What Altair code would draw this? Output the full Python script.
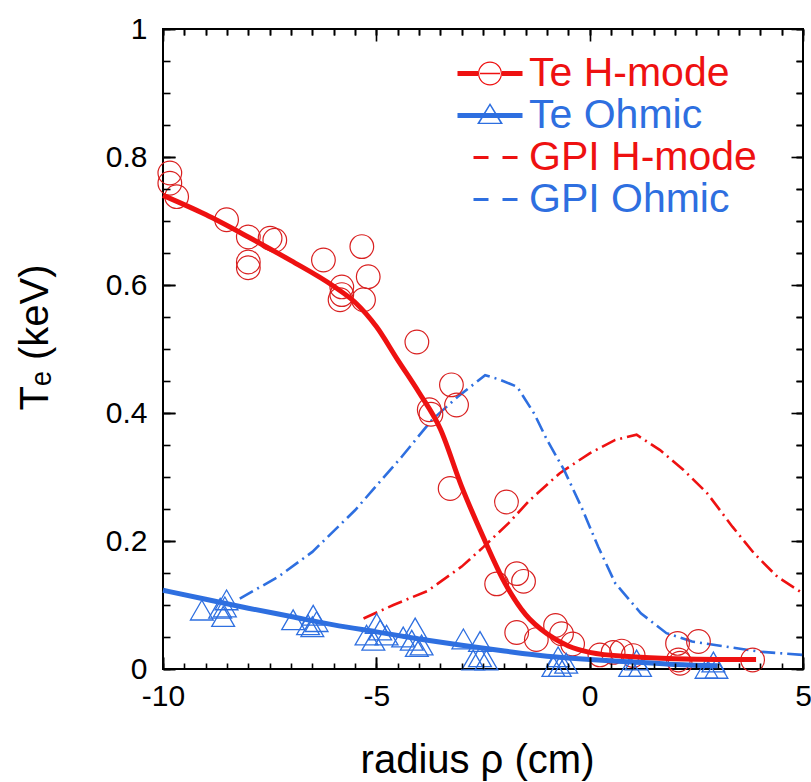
import altair as alt
import pandas as pd

RED = "#ee1111"
BLUE = "#2e6fe0"
FONT = "Liberation Sans"

series_names = ["Te H-mode", "Te Ohmic", "GPI H-mode", "GPI Ohmic"]
series_colors = [RED, BLUE, RED, BLUE]

# Te H-mode measurements (open circles)
hmode_x = [-9.84, -9.84, -9.68, -8.51, -8.0, -8.0, -8.0, -7.49, -7.38, -6.24,
           -5.34, -5.19, -5.30, -5.81, -5.85, -5.81, -4.05, -3.24, -3.12, -3.76,
           -3.72, -3.27, -1.95, -1.71, -1.55, -2.18, -1.71, -1.25, -0.80, -0.66,
           -0.40, 0.24, 0.55, 0.75, 1.02, 2.06, 2.55, 2.08, 2.12, 3.82]
hmode_y = [0.775, 0.759, 0.738, 0.702, 0.675, 0.636, 0.627, 0.673, 0.670, 0.639,
           0.660, 0.613, 0.577, 0.597, 0.577, 0.585, 0.511, 0.444, 0.4125, 0.405,
           0.398, 0.282, 0.261, 0.149, 0.137, 0.133, 0.057, 0.046, 0.068, 0.055,
           0.039, 0.022, 0.026, 0.028, 0.021, 0.040, 0.043, 0.014, 0.009, 0.014]

# Te Ohmic measurements (open triangles)
ohmic_x = [-9.09, -8.66, -8.59, -8.55, -8.51, -6.95, -6.60, -6.48, -6.40, -6.50,
           -5.23, -5.07, -4.99, -4.91, -4.76, -4.37, -4.17, -4.09, -3.94, -4.05,
           -2.96, -2.57, -2.57, -2.73, -2.42, -0.85, -0.74, -0.70, -0.55,
           0.95, 1.10, 1.18, 2.74, 2.90, 2.97]
ohmic_y = [0.092, 0.095, 0.082, 0.097, 0.108, 0.077, 0.069, 0.084, 0.074, 0.066,
           0.053, 0.045, 0.071, 0.061, 0.053, 0.050, 0.045, 0.064, 0.0375, 0.035,
           0.047, 0.043, 0.019, 0.014, 0.014, 0.004, 0.019, 0.004, 0.009,
           0.004, 0.014, 0.004, 0.001, 0.011, 0.001]

# Fitted profiles (thick solid lines)
hfit_x = [-10, -9, -8, -7, -6, -5.5, -5, -4.5, -4, -3.5, -3, -2.5, -2, -1.5, -1,
          -0.5, 0, 1, 2, 3, 3.9]
hfit_y = [0.740, 0.710, 0.675, 0.638, 0.598, 0.573, 0.535, 0.483, 0.432, 0.375,
          0.285, 0.207, 0.136, 0.085, 0.055, 0.036, 0.026, 0.019, 0.016, 0.015, 0.015]
ofit_x = [-10, -9, -8, -7, -6, -5, -4, -3, -2, -1, 0, 1, 2, 3]
ofit_y = [0.123, 0.109, 0.095, 0.082, 0.069, 0.058, 0.047, 0.037, 0.028, 0.020,
          0.015, 0.011, 0.007, 0.005]

# GPI profiles (dashed)
gpih_x = [-5.3, -4.6, -3.8, -3.0, -2.5, -1.9, -1.4, -0.7, 0.0, 0.6, 1.1, 1.65,
          2.2, 2.75, 3.35, 3.85, 4.4, 5.0]
gpih_y = [0.079, 0.100, 0.122, 0.160, 0.190, 0.228, 0.264, 0.306, 0.337, 0.358,
          0.366, 0.342, 0.311, 0.275, 0.222, 0.181, 0.144, 0.118]
gpio_x = [-8.2, -7.3, -6.5, -5.5, -4.4, -3.7, -3.1, -2.45, -2.1, -1.7, -1.3, -1.0,
          -0.6, -0.2, 0.2, 0.6, 1.2, 1.8, 2.4, 3.2, 4.0, 5.0]
gpio_y = [0.110, 0.144, 0.183, 0.248, 0.332, 0.389, 0.425, 0.459, 0.452, 0.441,
          0.399, 0.358, 0.311, 0.254, 0.191, 0.134, 0.087, 0.056, 0.043, 0.035,
          0.027, 0.022]

x_major = [-10, -5, 0, 5]
x_minor = [-10, -9.5, -9, -8.5, -8, -7.5, -7, -6.5, -6, -5.5, -5, -4.5, -4, -3.5,
           -3, -2.5, -2, -1.5, -1, -0.5, 0, 0.5, 1, 1.5, 2, 2.5, 3, 3.5, 4, 4.5, 5]
y_major = [0, 0.2, 0.4, 0.6, 0.8, 1]
y_minor = [0, 0.05, 0.1, 0.15, 0.2, 0.25, 0.3, 0.35, 0.4, 0.45, 0.5, 0.55, 0.6,
           0.65, 0.7, 0.75, 0.8, 0.85, 0.9, 0.95, 1]

# legend glyphs (custom symbol paths, units of 10 px)
legend_paths = {
    "Te H-mode": ("M-5.1,-0.25H-3.05V0.25H-5.1Z"
                  "M-0.65,-0.25H1.4V0.25H-0.65Z"
                  "M-0.65,0A1.2,1.2 0 1,0 -3.05,0A1.2,1.2 0 1,0 -0.65,0Z"
                  "M-0.77,0A1.08,1.08 0 1,1 -2.93,0A1.08,1.08 0 1,1 -0.77,0Z"
                  "M-2.85,-0.07H-0.85V0.07H-2.85Z"),
    "Te Ohmic": ("M-5.1,-0.25H1.4V0.25H-5.1Z"
                 "M-1.85,-1.25L-0.55,0.85L-3.15,0.85Z"
                 "M-1.85,-0.97L-2.87,0.72L-0.83,0.72Z"),
    "GPI H-mode": "M-3.5,-0.15H-2.0V0.15H-3.5ZM-0.6,-0.15H0.9V0.15H-0.6Z",
    "GPI Ohmic": "M-3.5,-0.15H-2.0V0.15H-3.5ZM-0.6,-0.15H0.9V0.15H-0.6Z",
}
shape_expr = ("datum.value === 'Te H-mode' ? '" + legend_paths["Te H-mode"] + "' : "
              "datum.value === 'Te Ohmic' ? '" + legend_paths["Te Ohmic"] + "' : '"
              + legend_paths["GPI H-mode"] + "'")

circles_df = pd.DataFrame({"x": hmode_x, "y": hmode_y})
tri_df = pd.DataFrame({"x": ohmic_x, "y": ohmic_y})
hfit_df = pd.DataFrame({"x": hfit_x, "y": hfit_y, "series": "Te H-mode"})
ofit_df = pd.DataFrame({"x": ofit_x, "y": ofit_y, "series": "Te Ohmic"})
fit_df = pd.concat([hfit_df, ofit_df])
gpih_df = pd.DataFrame({"x": gpih_x, "y": gpih_y})
gpio_df = pd.DataFrame({"x": gpio_x, "y": gpio_y})

xs = alt.Scale(domain=[-10, 5], nice=False, zero=False)
ys = alt.Scale(domain=[0, 1], nice=False, zero=False)
cs = alt.Scale(domain=series_names, range=series_colors)


def tick_axis(orient, values, size):
    # inward-pointing ticks: axis moved inside by its own tick length
    return alt.Axis(orient=orient, values=values, ticks=True, tickSize=size,
                    tickWidth=1.6, tickColor="black", labels=False, domain=False,
                    grid=False, title=None, offset=-size, zindex=1)


x_main = alt.Axis(orient="bottom", values=x_major, labelExpr="'' + datum.value",
                  ticks=False, tickSize=0, domain=False, grid=False,
                  labelFont=FONT, labelFontSize=30, labelColor="black",
                  labelPadding=12, labelFlush=False, labelOverlap=False,
                  title="radius ρ (cm)", titleFont=FONT, titleFontSize=40,
                  titleFontWeight="normal", titleColor="black",
                  titleX=314, titleY=103, titleBaseline="alphabetic",
                  titleAlign="center")
y_main = alt.Axis(orient="left", values=y_major, labelExpr="'' + datum.value",
                  ticks=False, tickSize=0, domain=False, grid=False,
                  labelFont=FONT, labelFontSize=30, labelColor="black",
                  labelPadding=16, labelFlush=False, labelOverlap=False,
                  title="Tₑ (keV)", titleFont=FONT, titleFontSize=40,
                  titleFontWeight="normal", titleColor="black",
                  titleX=-116, titleY=308, titleAngle=270,
                  titleBaseline="alphabetic", titleAlign="center")

legend = alt.Legend(
    orient="none", legendX=325, legendY=24, title=None,
    labelFont=FONT, labelFontSize=41, labelLimit=500, symbolSize=400,
    labelOffset=0, rowPadding=0, padding=0, symbolOpacity=1,
    symbolStrokeWidth=0,
    symbolType={"expr": shape_expr},
    labelColor={"expr": "scale('color', datum.value)"},
)
# invisible filled layer that carries the legend
legend_host = alt.Chart(fit_df).mark_point(filled=True, opacity=0, size=10).encode(
    x=alt.X("x:Q", scale=xs, axis=tick_axis("bottom", x_major, 12)),
    y=alt.Y("y:Q", scale=ys, axis=tick_axis("left", y_major, 12)),
    color=alt.Color("series:N", scale=cs, sort=series_names, legend=legend),
)

gpi_h = alt.Chart(gpih_df).mark_line(strokeWidth=2.6, strokeDash=[15, 5, 2, 5],
                                      color=RED).encode(
    x=alt.X("x:Q", scale=xs, axis=x_main),
    y=alt.Y("y:Q", scale=ys, axis=y_main),
)
gpi_o = alt.Chart(gpio_df).mark_line(strokeWidth=2.6, strokeDash=[15, 5, 2, 5],
                                      color=BLUE).encode(
    x=alt.X("x:Q", scale=xs, axis=tick_axis("bottom", x_major, 12)),
    y=alt.Y("y:Q", scale=ys, axis=tick_axis("left", y_major, 12)),
)
circles = alt.Chart(circles_df).mark_point(shape="circle", filled=False, size=560,
                                           strokeWidth=1.2, color="#d92020",
                                           opacity=1).encode(
    x=alt.X("x:Q", scale=xs, axis=tick_axis("bottom", x_minor, 6)),
    y=alt.Y("y:Q", scale=ys, axis=tick_axis("left", y_minor, 7)),
)
triangles = alt.Chart(tri_df).mark_point(shape="triangle-up", filled=False,
                                         size=520, strokeWidth=1.3, color=BLUE,
                                         opacity=1).encode(
    x=alt.X("x:Q", scale=xs, axis=tick_axis("top", x_major, 12)),
    y=alt.Y("y:Q", scale=ys, axis=tick_axis("right", y_major, 12)),
)
fit_h = alt.Chart(hfit_df).mark_line(strokeWidth=5, interpolate="monotone",
                                     color=RED).encode(
    x=alt.X("x:Q", scale=xs, axis=tick_axis("top", x_minor, 6)),
    y=alt.Y("y:Q", scale=ys, axis=tick_axis("right", y_minor, 7)),
)
fit_o = alt.Chart(ofit_df).mark_line(strokeWidth=5, interpolate="monotone",
                                     color=BLUE).encode(
    x=alt.X("x:Q", scale=xs, axis=tick_axis("top", x_minor, 6)),
    y=alt.Y("y:Q", scale=ys, axis=tick_axis("right", y_minor, 7)),
)

chart = alt.layer(legend_host, gpi_h, gpi_o, circles, triangles, fit_h, fit_o).resolve_axis(
    x="independent", y="independent"
).properties(
    width=640, height=640,
    autosize=alt.AutoSizeParams(type="none"),
    padding={"left": 163, "top": 29, "right": 8, "bottom": 113},
    background="white",
).configure_view(stroke="black", strokeWidth=2)

chart.save("out.html", embed_options={"renderer": "svg", "actions": False})
